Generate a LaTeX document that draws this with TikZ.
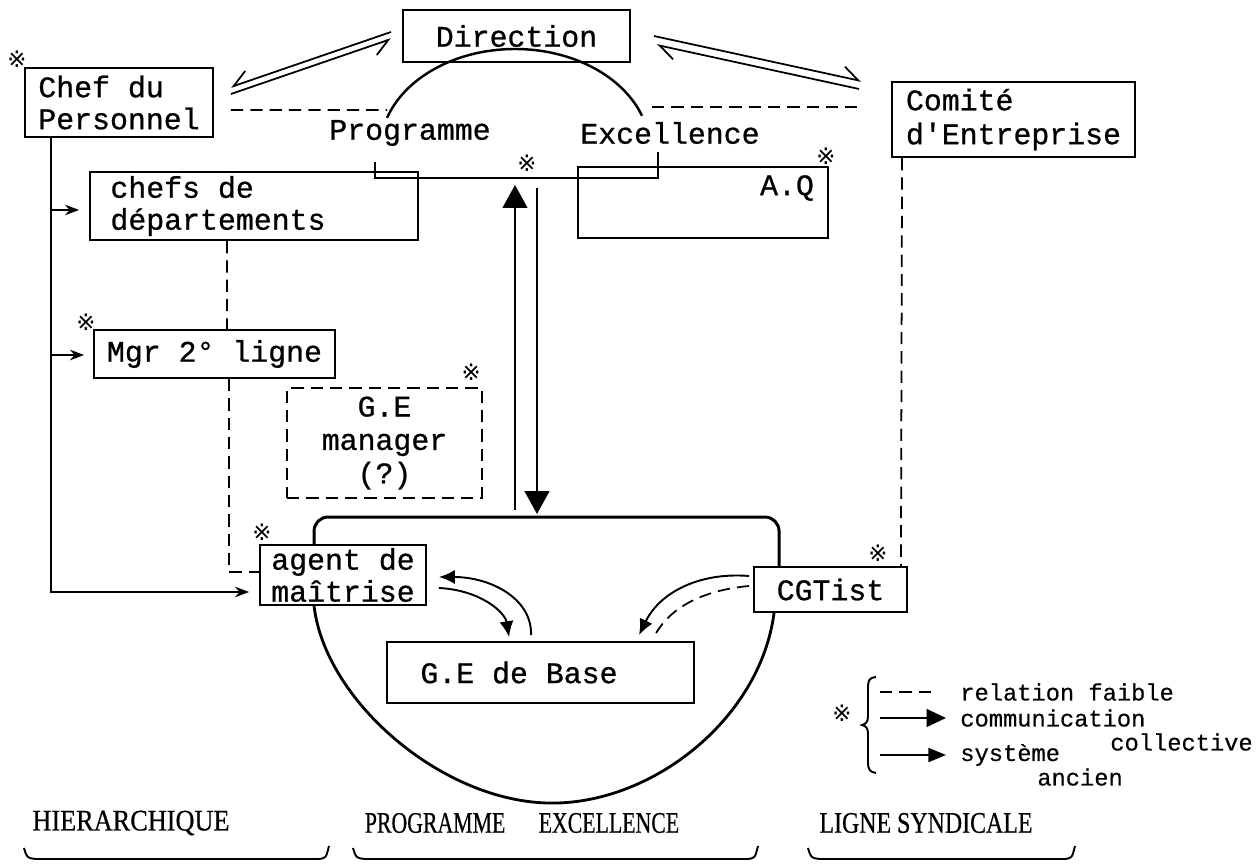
\documentclass[tikz,border=0pt]{standalone}
\usepackage{fontspec}
\usepackage{graphicx}
\setmainfont{Liberation Serif}
\newfontfamily\twfont[FakeBold=0.8]{Liberation Mono}
\newfontfamily\lgdfont[FakeBold=0.4]{Liberation Mono}
\newfontfamily\captfont[FakeBold=0.6]{Liberation Serif}
\newfontfamily\symfont{DejaVu Sans}
\usetikzlibrary{arrows.meta,calc}
\begin{document}
\begin{tikzpicture}[x=0.02cm,y=-0.02cm,
  box/.style={draw,line width=1.1pt,inner sep=0pt,font=\twfont\fontsize{17pt}{18.2pt}\selectfont},
  dbox/.style={box,dash pattern=on 7pt off 4pt,line width=1.3pt},
  lbl/.style={inner sep=0pt,font=\twfont\fontsize{17pt}{18.2pt}\selectfont},
  lgd/.style={inner sep=0pt,anchor=west,font=\lgdfont\fontsize{13.5pt}{14pt}\selectfont},
  captxt/.style={inner sep=0pt,font=\captfont\fontsize{17pt}{18pt}\selectfont},
  mk/.style={inner sep=0pt,font=\symfont\fontsize{13pt}{13pt}\selectfont},
  weak/.style={dash pattern=on 7pt off 4pt,line width=1pt},
  old/.style={line width=0.9pt,-{Stealth[length=8pt,width=6pt]}},
  comm/.style={line width=1.2pt,-{Triangle[length=13pt,width=14pt]}},
  curv/.style={line width=1.1pt,-{Latex[length=9pt,width=8pt]}},
  harpl/.style={line width=1pt,-{Straight Barb[harpoon,length=9pt,width=12pt]}},
  harpr/.style={line width=1pt,-{Straight Barb[harpoon,swap,length=9pt,width=12pt]}},
  heavy/.style={line width=1.7pt},
  brk/.style={line width=1.1pt}]
\useasboundingbox (0,0) rectangle (1259,864);

% ---------- boxes ----------
\node[box,minimum width=4.54cm,minimum height=1.04cm] (dir) at (516.5,36) {Direction};
\node[box,minimum width=3.76cm,minimum height=1.38cm,align=left] (chef) at (119,102.5) {Chef du\\Personnel};
\node[box,minimum width=4.86cm,minimum height=1.5cm,align=left,font=\twfont\fontsize{17pt}{19.3pt}\selectfont] (comite) at (1013.5,119.5) {Comité\\d'Entreprise};
\node[box,minimum width=6.56cm,minimum height=1.36cm,align=left] (chefs) at (254,206) {chefs de\\départements\hspace*{1.44cm}};
\node[box,minimum width=5cm,minimum height=1.42cm] (aq) at (703,202.5) {};
\node[lbl] (aqt) at (787,188) {A.Q};
\node[box,minimum width=4.82cm,minimum height=0.96cm] (mgr) at (214.5,354) {Mgr 2° ligne};
\node[dbox,minimum width=3.9cm,minimum height=2.2cm,align=center,font=\twfont\fontsize{17pt}{19pt}\selectfont] (gem) at (384.5,443) {G.E\\manager\\(?)};
\node[box,minimum width=3.32cm,minimum height=1.2cm,align=left] (agent) at (343,575) {agent de\\maîtrise};
\node[box,minimum width=3.06cm,minimum height=0.9cm] (cgt) at (830.5,589.5) {CGTist};
\node[box,minimum width=6.14cm,minimum height=1.22cm] (geb) at (540.5,672.5) {G.E de Base\hspace*{0.86cm}};

% ---------- Programme Excellence ----------
\node[lbl] (prog) at (410,133) {Programme};
\node[lbl] (exc) at (670,133) {Excellence};
\draw[line width=1.4pt] plot[domain=198.5:340.2,samples=60,smooth] ({515+135*cos(\x)},{150+101*sin(\x)});
\coordinate (pbl) at (375,162);
\coordinate (pbr) at (658,152);
\draw[line width=1.1pt] (pbl) -- (375,178) -- (658,178) -- (pbr);

% ---------- reference marks ----------
\node[mk] (m1) at ($(chef.north west)+(-7,-8)$) {※};
\node[mk] (m2) at (527,163) {※};
\node[mk] (m3) at ($(aq.north east)+(-3,-10)$) {※};
\node[mk] (m4) at ($(mgr.north west)+(-7,-7)$) {※};
\node[mk] (m5) at ($(gem.north east)+(-12,-15)$) {※};
\node[mk] (m6) at ($(agent.north west)+(3,-12)$) {※};
\node[mk] (m7) at ($(cgt.north east)+(-30,-13)$) {※};

% ---------- harpoons with Direction ----------
\draw[harpr] ($(dir.west)+(-11,-4)$) -- ($(chef.east)+(17,-15.5)$);
\draw[harpr] ($(chef.east)+(17,-8.5)$) -- ($(dir.west)+(-11,3)$);
\draw[harpl] ($(dir.east)+(23,0)$) -- ($(comite.west)+(-30,-38.5)$);
\draw[harpl] ($(comite.west)+(-32,-30.5)$) -- ($(dir.east)+(26,9)$);

% ---------- weak relations ----------
\draw[weak] ($(chef.east)+(17,7.5)$) -- (387,110);
\draw[weak] (652,107) -- ($(comite.west)+(-34,-12.5)$);
\draw[weak] ($(comite.south west)+(11,0)$) -- ($(cgt.north east)+(-7,0)$);
\draw[weak] ($(chefs.south west)+(138,0)$) -- ($(mgr.north west)+(134,0)$);
\draw[weak] ($(mgr.south west)+(136,0)$) |- ($(agent.west)+(0,-3)$);

% ---------- hierarchy (old system) ----------
\coordinate (t1) at ($(chef.south west)+(27,0)$);
\draw[old] (t1) |- ($(agent.west)+(-10,17)$);
\draw[old] ($(t1 |- chefs.west)+(0,4)$) -- ($(chefs.west)+(-10,4)$);
\draw[old] ($(t1 |- mgr.west)+(0,1)$) -- ($(mgr.west)+(-9,1)$);

% ---------- collective communication ----------
\draw[heavy,rounded corners=8pt] ($(agent.north west)+(55,0)$) -- ++(0,-27) -| ($(cgt.north west)+(26,0)$);
\coordinate (grp) at (526,518);
\coordinate (peb) at (526,178);
\draw[comm] ($(grp)+(-11,-8)$) -- ($(peb)+(-11,7)$);
\draw[comm] ($(peb)+(11,10)$) -- ($(grp)+(11,-4)$);

\draw[line width=1.6pt] ($(agent.south west)+(55,0)$) .. controls (325,700) and (440,800) .. (547,803)
  .. controls (650,806) and (760,720) .. ($(cgt.south west)+(21,0)$);

\draw[curv] ($(geb.north west)+(145,-6)$) .. controls (532,598) and (490,577) .. ($(agent.east)+(12,2)$);
\draw[curv] ($(agent.east)+(12,13)$) .. controls (480,590) and (505,612) .. ($(geb.north west)+(123,-4)$);
\draw[curv] ($(cgt.west)+(-4,-13.5)$) .. controls (700,572) and (660,592) .. ($(geb.north west)+(253,-6)$);
\draw[weak] ($(cgt.west)+(-4,-3.5)$) .. controls (705,590) and (672,606) .. ($(geb.north west)+(270,-8)$);

% ---------- legend ----------
\node[mk] (m8) at (842,713) {※};
\draw[line width=1.1pt] (876,677) .. controls (868,678) and (868,681) .. (868,690) -- (868,716)
  .. controls (868,722) and (866,724) .. (862,725) .. controls (866,726) and (868,728) .. (868,734)
  -- (868,762) .. controls (868,770) and (870,772) .. (876,773);
\coordinate (l1a) at (880,692); \coordinate (l1b) at (937,692);
\coordinate (l2a) at (880,718); \coordinate (l2b) at (946,718);
\coordinate (l3a) at (880,755); \coordinate (l3b) at (946,755);
\draw[weak] (l1a) -- (l1b);
\draw[line width=1.5pt,-{Triangle[length=11pt,width=10pt]}] (l2a) -- (l2b);
\draw[line width=1pt,-{Triangle[length=10pt,width=8pt]}] (l3a) -- (l3b);
\node[lgd] (t1l) at (960,692) {relation faible};
\node[lgd] (t2l) at (960,718) {communication};
\node[lgd] (t2m) at (1110,742) {collective};
\node[lgd] (t3l) at (960,755) {système};
\node[lgd] (t3m) at (1037,777) {ancien};

% ---------- bottom captions ----------
\node[captxt] (c1) at (131,823) {\scalebox{0.88}[1]{HIERARCHIQUE}};
\node[captxt] (c2) at (522,823) {\scalebox{0.73}[1]{PROGRAMME\hspace{26pt}EXCELLENCE}};
\node[captxt] (c3) at (926,823) {\scalebox{0.8}[1]{LIGNE SYNDICALE}};
\draw[brk] (24,848) .. controls (27,858) .. (36,859) -- (319,859) .. controls (326,858) .. (329,846);
\draw[brk] (353,848) .. controls (356,858) .. (365,859) -- (748,859) .. controls (755,858) .. (758,846);
\draw[brk] (808,848) .. controls (811,858) .. (820,859) -- (1065,859) .. controls (1072,858) .. (1075,846);
\end{tikzpicture}
\end{document}
